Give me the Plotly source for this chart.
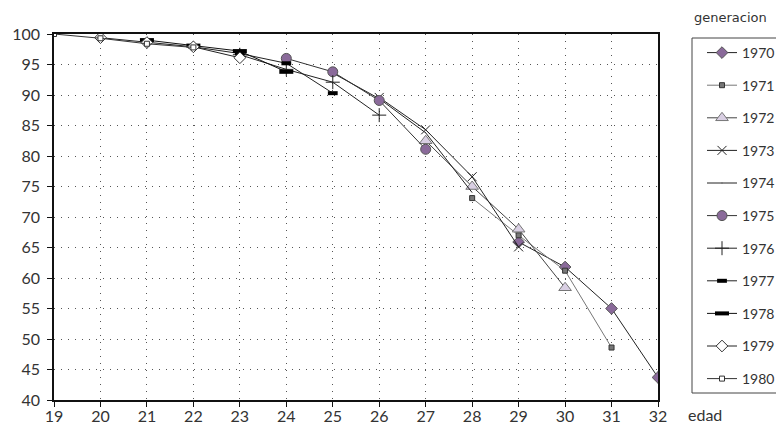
import plotly.graph_objects as go

# Data: age (edad) and survival-like percentage per generation
gen_1970_age = [29, 30, 31, 32]
gen_1970_val = [65.9, 61.8, 55.0, 43.7]
gen_1971_age = [28, 29, 30, 31]
gen_1971_val = [73.1, 67.0, 61.2, 48.6]
gen_1972_age = [27, 28, 29, 30]
gen_1972_val = [82.5, 75.0, 68.0, 58.4]
gen_1973_age = [26, 27, 28, 29]
gen_1973_val = [89.6, 84.3, 76.6, 65.1]
gen_1974_age = [25, 26, 27, 28]
gen_1974_val = [93.6, 89.4, 83.8, 74.0]
gen_1975_age = [24, 25, 26, 27]
gen_1975_val = [96.0, 93.8, 89.1, 81.1]
gen_1976_age = [23, 24, 25, 26]
gen_1976_val = [96.6, 94.2, 92.1, 86.7]
gen_1977_age = [22, 23, 24, 25]
gen_1977_val = [97.9, 96.8, 95.2, 90.3]
gen_1978_age = [21, 22, 23, 24]
gen_1978_val = [99.0, 98.1, 97.2, 93.8]
gen_1979_age = [20, 21, 22, 23]
gen_1979_val = [99.4, 98.6, 97.9, 96.1]
gen_1980_age = [19, 20, 21, 22]
gen_1980_val = [100.0, 99.3, 98.4, 97.8]

y_ticks = [40, 45, 50, 55, 60, 65, 70, 75, 80, 85, 90, 95, 100]
x_ticks = list(range(19, 33))

PURPLE = "#8A6A9A"
LAV = "#D9CFE3"
DARK = "#222222"

series = [
    ("1970", gen_1970_age, gen_1970_val, dict(symbol="diamond", size=9, color=PURPLE, line=dict(color="#555", width=1)), DARK),
    ("1971", gen_1971_age, gen_1971_val, dict(symbol="square", size=5, color="#777", line=dict(color="#333", width=1)), "#777777"),
    ("1972", gen_1972_age, gen_1972_val, dict(symbol="triangle-up", size=11, color=LAV, line=dict(color="#777", width=1)), "#444444"),
    ("1973", gen_1973_age, gen_1973_val, dict(symbol="x-thin-open", size=9, color=DARK, line=dict(color=DARK, width=1)), DARK),
    ("1974", gen_1974_age, gen_1974_val, dict(symbol="circle", size=1, color=DARK, opacity=0), DARK),
    ("1975", gen_1975_age, gen_1975_val, dict(symbol="circle", size=10, color=PURPLE, line=dict(color="#555", width=1)), "#333333"),
    ("1976", gen_1976_age, gen_1976_val, dict(symbol="cross-thin-open", size=10, color=DARK, line=dict(color=DARK, width=1)), DARK),
    ("1977", gen_1977_age, gen_1977_val, dict(symbol="line-ew-open", size=7, color="black", line=dict(color="black", width=4)), DARK),
    ("1978", gen_1978_age, gen_1978_val, dict(symbol="line-ew-open", size=10, color="black", line=dict(color="black", width=4)), "#111111"),
    ("1979", gen_1979_age, gen_1979_val, dict(symbol="diamond", size=9, color="white", line=dict(color="#333", width=1)), DARK),
    ("1980", gen_1980_age, gen_1980_val, dict(symbol="square", size=5, color="white", line=dict(color="#333", width=1)), "#333333"),
]

fig = go.Figure()
for name, xs, ys, mk, lc in series:
    fig.add_trace(go.Scatter(
        x=xs, y=ys, name=name, mode="lines+markers",
        line=dict(color=lc, width=1), marker=mk,
        legendgroup=name,
    ))

FONT = "Lato"
OFF = 8  # page body margin
W, H = 784 - OFF, 430 - OFF
L, T = 54 - OFF, 34 - OFF
pw, ph = 604, 366
R = W - L - pw
B = H - T - ph

def px_x(px):
    # px: window pixel coordinate
    return (px - OFF - L) / pw

def px_y(py):
    return (H - B - (py - OFF)) / ph

DOTS = "1px,6px"

fig.update_layout(
    width=W, height=H,
    margin=dict(l=L, r=R, t=T, b=B, pad=0, autoexpand=False),
    paper_bgcolor="white", plot_bgcolor="white",
    font=dict(family=FONT, size=16, color="#333333"),
    showlegend=True,
    legend=dict(
        x=px_x(702), y=px_y(37), xanchor="left", yanchor="top",
        font=dict(family=FONT, size=14, color="#333333"),
        tracegroupgap=11.4, bgcolor="rgba(0,0,0,0)", borderwidth=0,
        itemwidth=30,
    ),
    xaxis=dict(
        range=[19, 32], tickmode="array", tickvals=x_ticks,
        ticktext=[str(v) for v in x_ticks],
        showgrid=True, gridcolor="#555555", griddash=DOTS, gridwidth=1,
        showline=True, linecolor="#111111", linewidth=1.5, mirror=True,
        ticks="outside", ticklen=5, tickcolor="#111111",
        zeroline=False, tickfont=dict(size=16), automargin=False,
        ticklabelstandoff=-4,
    ),
    yaxis=dict(
        range=[40, 100], tickmode="array", tickvals=y_ticks,
        ticktext=[str(v) for v in y_ticks],
        showgrid=True, gridcolor="#555555", griddash=DOTS, gridwidth=1,
        showline=True, linecolor="#111111", linewidth=1.5, mirror=True,
        ticks="outside", ticklen=5, tickcolor="#111111",
        zeroline=False, tickfont=dict(size=16), automargin=False,
        ticklabelstandoff=4,
    ),
    shapes=[dict(
        type="rect", xref="paper", yref="paper",
        x0=px_x(692), x1=px_x(800), y0=px_y(393), y1=px_y(38),
        line=dict(color="#444444", width=1), fillcolor="rgba(0,0,0,0)",
        layer="below",
    )],
    annotations=[
        dict(text="generacion", xref="paper", yref="paper",
             x=px_x(730), y=px_y(18), showarrow=False,
             xanchor="center", yanchor="middle",
             font=dict(family="DejaVu Sans", size=13, color="#333333")),
        dict(text="edad", xref="paper", yref="paper",
             x=px_x(705), y=px_y(414), showarrow=False,
             xanchor="center", yanchor="middle",
             font=dict(family=FONT, size=16, color="#333333")),
    ],
)

fig.write_html("out.html")
